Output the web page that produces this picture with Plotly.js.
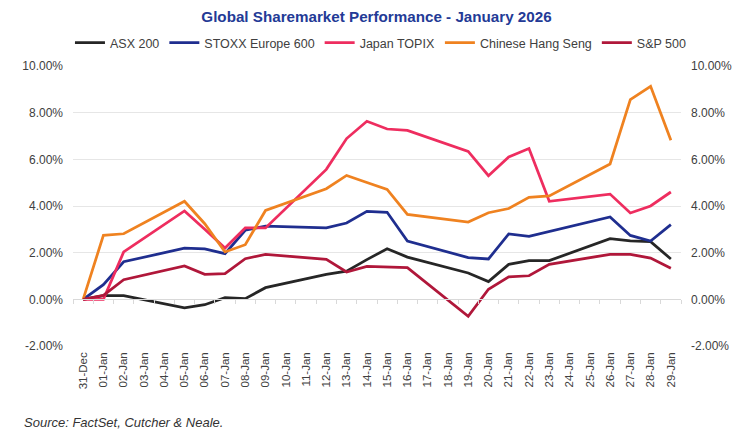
<!DOCTYPE html>
<html>
<head>
<meta charset="utf-8">
<script src="https://cdn.plot.ly/plotly-3.0.1.min.js"></script>
<style>html,body{margin:0;padding:0;background:#fff;}#chart{width:750px;height:439px;}</style>
</head>
<body>
<div id="chart"></div>
<script>
var dates = ['31-Dec','01-Jan','02-Jan','03-Jan','04-Jan','05-Jan','06-Jan','07-Jan','08-Jan','09-Jan','10-Jan','11-Jan','12-Jan','13-Jan','14-Jan','15-Jan','16-Jan','17-Jan','18-Jan','19-Jan','20-Jan','21-Jan','22-Jan','23-Jan','24-Jan','25-Jan','26-Jan','27-Jan','28-Jan','29-Jan'];
var n = null;
var asx200 = [0, 0.16, 0.16, n, n, -0.37, -0.23, 0.07, 0.03, 0.50, n, n, 1.07, 1.21, 1.70, 2.17, 1.81, n, n, 1.13, 0.76, 1.50, 1.66, 1.66, n, n, 2.60, 2.51, 2.47, 1.73];
var stoxx600 = [0, 0.63, 1.61, n, n, 2.19, 2.16, 1.96, 2.96, 3.14, n, n, 3.06, 3.27, 3.77, 3.73, 2.50, n, n, 1.79, 1.73, 2.80, 2.70, 2.90, n, n, 3.53, 2.74, 2.50, 3.20];
var topix = [0, 0.00, 2.03, n, n, 3.79, 3.00, 2.20, 3.06, 3.06, n, n, 5.57, 6.89, 7.63, 7.30, 7.24, n, n, 6.34, 5.30, 6.10, 6.46, 4.20, n, n, 4.51, 3.70, 4.00, 4.60];
var hangSeng = [0, 2.74, 2.81, n, n, 4.20, 3.24, 2.03, 2.34, 3.81, n, n, 4.74, 5.31, 5.01, 4.71, 3.64, n, n, 3.31, 3.71, 3.89, 4.37, 4.43, n, n, 5.80, 8.56, 9.13, 6.82];
var sp500 = [0, 0.17, 0.84, n, n, 1.43, 1.07, 1.10, 1.74, 1.93, n, n, 1.71, 1.17, 1.41, 1.37, 1.36, n, n, -0.73, 0.43, 0.96, 1.01, 1.50, n, n, 1.93, 1.93, 1.77, 1.33];
var seriesNames = ['ASX 200', 'STOXX Europe 600', 'Japan TOPIX', 'Chinese Hang Seng', 'S&P 500'];
var yTickVals = [-2, 0, 2, 4, 6, 8, 10];
var yTickText = ['-2.00%', '0.00%', '2.00%', '4.00%', '6.00%', '8.00%', '10.00%'];

var colors = ['#262626', '#1F2E8F', '#EE2D5F', '#EF8220', '#B0173A'];
var allSeries = [asx200, stoxx600, topix, hangSeng, sp500];

var traces = allSeries.map(function (s, i) {
  return {
    type: 'scatter', mode: 'lines', x: dates, y: s, name: seriesNames[i],
    connectgaps: true, line: {color: colors[i], width: 2.75},
    hoverinfo: 'skip'
  };
});

var boundaries = [];
for (var i = 0; i <= dates.length; i++) boundaries.push(i - 0.5);

var font = {family: 'Liberation Sans, Arial, sans-serif', color: '#404040', size: 12};

var layout = {
  width: 750, height: 439,
  margin: {l: 73, r: 69, t: 66, b: 93},
  paper_bgcolor: '#fff', plot_bgcolor: '#fff',
  font: font,
  showlegend: true,
  title: {
    text: '<b>Global Sharemarket Performance - January 2026</b>',
    font: {family: 'Liberation Sans, Arial, sans-serif', size: 15.2, color: '#233A96'},
    xref: 'container', yref: 'container', x: 0.502, y: 1 - 17 / 439,
    xanchor: 'center', yanchor: 'middle'
  },
  legend: {
    orientation: 'h', xref: 'paper', yref: 'paper',
    x: -0.005, y: (346 - 43) / 280, xanchor: 'left', yanchor: 'middle',
    font: {family: 'Liberation Sans, Arial, sans-serif', size: 12.5, color: '#404040'},
    itemwidth: 30, tracegroupgap: 0, bgcolor: 'rgba(0,0,0,0)'
  },
  xaxis: {
    type: 'category', categoryorder: 'array', categoryarray: dates,
    range: [-0.5, dates.length - 0.5],
    showgrid: false, zeroline: false, showline: false, ticks: '',
    tickangle: -90, tickfont: {size: 11.5, color: '#404040'},
    ticklabelstandoff: 3, fixedrange: true
  },
  xaxis2: {
    overlaying: 'x', anchor: 'free', position: 2 / 12, type: 'linear',
    range: [-0.5, dates.length - 0.5], tickmode: 'array', tickvals: boundaries,
    showticklabels: false, ticks: 'outside', ticklen: 4, tickcolor: '#D9D9D9', tickwidth: 1,
    showline: true, linecolor: '#D9D9D9', linewidth: 1, showgrid: false, zeroline: false, fixedrange: true
  },
  yaxis: {
    range: [-2, 10], tickmode: 'array', tickvals: yTickVals, ticktext: yTickText,
    showgrid: true, gridcolor: '#E6E6E6', gridwidth: 1, zeroline: false, showline: false,
    ticks: '', ticklabelstandoff: 9, tickfont: {size: 12, color: '#404040'}, fixedrange: true
  },
  yaxis2: {
    overlaying: 'y', side: 'right', anchor: 'x',
    range: [-2, 10], tickmode: 'array', tickvals: yTickVals, ticktext: yTickText,
    showgrid: false, zeroline: false, showline: false,
    ticks: '', ticklabelstandoff: 9, tickfont: {size: 12, color: '#404040'}, fixedrange: true
  },
  annotations: [{
    text: '<i>Source: FactSet, Cutcher &amp; Neale.</i>',
    xref: 'paper', yref: 'paper', x: (22 - 73) / 608, y: (346 - 422) / 280,
    xanchor: 'left', yanchor: 'middle', showarrow: false,
    font: {family: 'Liberation Sans, Arial, sans-serif', size: 13, color: '#333333'}
  }]
};

traces.push({type: 'scatter', mode: 'lines', x: [0], y: [0], xaxis: 'x2', yaxis: 'y2',
  showlegend: false, hoverinfo: 'skip', line: {color: 'rgba(0,0,0,0)'}});

Plotly.newPlot('chart', traces, layout, {displayModeBar: false, staticPlot: true});
</script>
</body>
</html>
